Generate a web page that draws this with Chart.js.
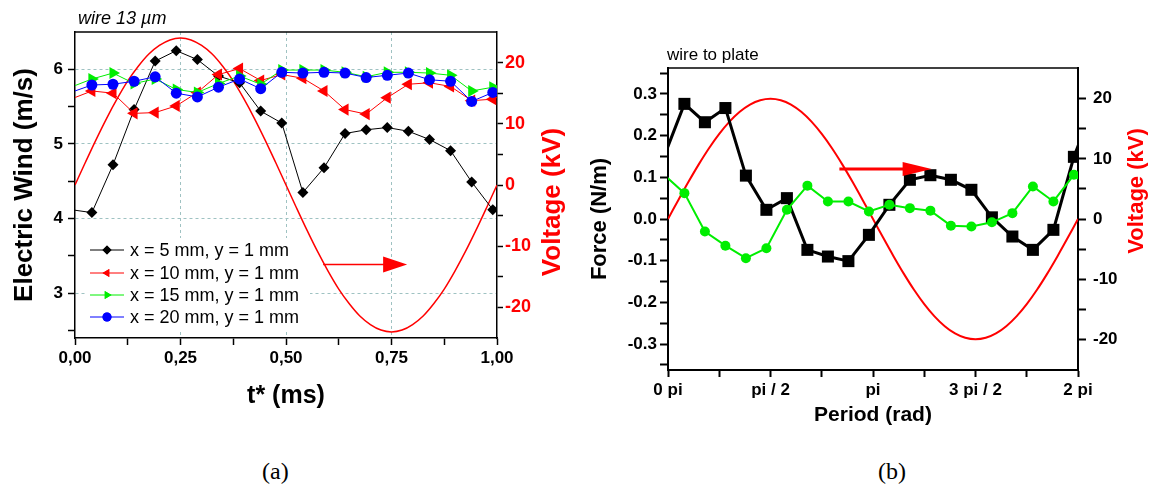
<!DOCTYPE html>
<html>
<head>
<meta charset="utf-8">
<script src="https://cdn.jsdelivr.net/npm/chart.js@4.4.0/dist/chart.umd.min.js"></script>
<style>
  body { margin: 0; background: #fff; width: 1149px; height: 484px; position: relative; overflow: hidden; }
  canvas { position: absolute; top: 0; }
  #chartA { left: 0; }
  #chartB { left: 575px; }
  .panel { position: absolute; top: 458px; line-height: 24px; font: 24px "Liberation Serif", "Times New Roman", serif; color: #000; }
</style>
</head>
<body>
<canvas id="chartA" width="575" height="440"></canvas>
<canvas id="chartB" width="574" height="440"></canvas>
<div class="panel" style="left:262px">(a)</div>
<div class="panel" style="left:878px">(b)</div>
<script>
// ---------- panel (a) : electric wind, wire 13 µm ----------
const tWind = [0.04, 0.09, 0.14, 0.19, 0.24, 0.29, 0.34, 0.39, 0.44, 0.49, 0.54, 0.59, 0.64, 0.69, 0.74, 0.79, 0.84, 0.89, 0.94, 0.99];
const wind5  = [4.08, 4.72, 5.46, 6.11, 6.25, 6.13, 5.91, 5.82, 5.44, 5.28, 4.35, 4.68, 5.14, 5.19, 5.22, 5.17, 5.06, 4.91, 4.49, 4.12];
const wind10 = [5.71, 5.68, 5.41, 5.42, 5.51, 5.69, 5.93, 6.01, 5.85, 5.93, 5.88, 5.71, 5.46, 5.40, 5.62, 5.80, 5.82, 5.77, 5.58, 5.60];
const wind15 = [5.87, 5.95, 5.81, 5.87, 5.73, 5.69, 5.81, 5.91, 5.80, 5.99, 5.99, 5.99, 5.96, 5.90, 5.96, 5.96, 5.95, 5.92, 5.71, 5.76];
const wind20 = [5.79, 5.80, 5.84, 5.90, 5.68, 5.63, 5.76, 5.87, 5.74, 5.96, 5.95, 5.96, 5.95, 5.89, 5.92, 5.95, 5.86, 5.84, 5.57, 5.69];

const tVoltA = [0, 0.025, 0.05, 0.075, 0.1, 0.125, 0.15, 0.175, 0.2, 0.225, 0.25, 0.275, 0.3, 0.325, 0.35, 0.375, 0.4, 0.425, 0.45, 0.475, 0.5,
                0.525, 0.55, 0.575, 0.6, 0.625, 0.65, 0.675, 0.7, 0.725, 0.75, 0.775, 0.8, 0.825, 0.85, 0.875, 0.9, 0.925, 0.95, 0.975, 1];
const voltA = [0, 3.75, 7.42, 10.9, 14.1, 17.0, 19.4, 21.4, 22.8, 23.7, 24.0, 23.7, 22.8, 21.4, 19.4, 17.0, 14.1, 10.9, 7.42, 3.75, 0,
               -3.75, -7.42, -10.9, -14.1, -17.0, -19.4, -21.4, -22.8, -23.7, -24.0, -23.7, -22.8, -21.4, -19.4, -17.0, -14.1, -10.9, -7.42, -3.75, 0];

const tTicksA = [0, 0.125, 0.25, 0.375, 0.5, 0.625, 0.75, 0.875, 1];
const tMajorA = [0, 0.25, 0.5, 0.75, 1];
const tLabelsA = ['0,00', '0,25', '0,50', '0,75', '1,00'];
const tGridA = [0.25, 0.5, 0.75];
const windTicks = [2.5, 3, 3.5, 4, 4.5, 5, 5.5, 6];
const windMajor = [3, 4, 5, 6];
const windLabels = ['3', '4', '5', '6'];
const voltTicks = [-20, -15, -10, -5, 0, 5, 10, 15, 20];
const voltMajor = [-20, -10, 0, 10, 20];
const voltLabels = ['-20', '-10', '0', '10', '20'];

const legendA = ['x = 5 mm, y = 1 mm', 'x = 10 mm, y = 1 mm', 'x = 15 mm, y = 1 mm', 'x = 20 mm, y = 1 mm'];

// ---------- panel (b) : force, wire to plate ----------
const phase = [0.08, 0.18, 0.28, 0.38, 0.48, 0.58, 0.68, 0.78, 0.88, 0.98, 1.08, 1.18, 1.28, 1.38, 1.48, 1.58, 1.68, 1.78, 1.88, 1.98];
const forceBlack = [0.276, 0.232, 0.266, 0.104, 0.022, 0.050, -0.074, -0.090, -0.101, -0.038, 0.034, 0.094, 0.105, 0.094, 0.070, 0.004, -0.042, -0.074, -0.026, 0.149];
const forceGreen = [0.062, -0.030, -0.064, -0.094, -0.070, 0.022, 0.080, 0.042, 0.042, 0.018, 0.034, 0.026, 0.020, -0.016, -0.018, -0.008, 0.014, 0.078, 0.042, 0.106];

const phaseVolt = [0, 0.05, 0.1, 0.15, 0.2, 0.25, 0.3, 0.35, 0.4, 0.45, 0.5, 0.55, 0.6, 0.65, 0.7, 0.75, 0.8, 0.85, 0.9, 0.95, 1,
                   1.05, 1.1, 1.15, 1.2, 1.25, 1.3, 1.35, 1.4, 1.45, 1.5, 1.55, 1.6, 1.65, 1.7, 1.75, 1.8, 1.85, 1.9, 1.95, 2];
const voltB = [0, 3.13, 6.18, 9.08, 11.76, 14.14, 16.18, 17.82, 19.02, 19.75, 20, 19.75, 19.02, 17.82, 16.18, 14.14, 11.76, 9.08, 6.18, 3.13, 0,
               -3.13, -6.18, -9.08, -11.76, -14.14, -16.18, -17.82, -19.02, -19.75, -20, -19.75, -19.02, -17.82, -16.18, -14.14, -11.76, -9.08, -6.18, -3.13, 0];

const phaseTicks = [0, 0.25, 0.5, 0.75, 1, 1.25, 1.5, 1.75, 2];
const phaseMajor = [0, 0.5, 1, 1.5, 2];
const phaseLabels = ['0 pi', 'pi / 2', 'pi', '3 pi / 2', '2 pi'];
const forceTicks = [-0.35, -0.3, -0.25, -0.2, -0.15, -0.1, -0.05, 0, 0.05, 0.1, 0.15, 0.2, 0.25, 0.3, 0.35];
const forceMajor = [-0.3, -0.2, -0.1, 0, 0.1, 0.2, 0.3];
const forceLabels = ['-0.3', '-0.2', '-0.1', '0.0', '0.1', '0.2', '0.3'];

const FONT = '"Liberation Sans", Arial, sans-serif';
const GRID = '#9fc2c2';

function labelFor(v, major, labels) {
  const i = major.indexOf(v);
  return i >= 0 ? labels[i] : '';
}
function setTicks(list) {
  return s => { s.ticks = list.map(value => ({ value })); };
}
// repeat last/first sample one period away so the line runs to the frame edges
function periodic(xs, ys, period) {
  const n = xs.length;
  return [{ x: xs[n - 1] - period, y: ys[n - 1] }]
    .concat(xs.map((x, i) => ({ x, y: ys[i] })))
    .concat([{ x: xs[0] + period, y: ys[0] }]);
}
function radii(n, r) {
  return [0].concat(new Array(n).fill(r), [0]);
}
function curve(xs, ys) {
  return xs.map((x, i) => ({ x, y: ys[i] }));
}

function arrow(ctx, x1, x2, y, lw, headLen, headHalf) {
  ctx.save();
  ctx.strokeStyle = '#ff0000';
  ctx.fillStyle = '#ff0000';
  ctx.lineWidth = lw;
  ctx.beginPath();
  ctx.moveTo(x1, y);
  ctx.lineTo(x2 - headLen + 1, y);
  ctx.stroke();
  ctx.beginPath();
  ctx.moveTo(x2, y);
  ctx.lineTo(x2 - headLen, y - headHalf);
  ctx.lineTo(x2 - headLen, y + headHalf);
  ctx.closePath();
  ctx.fill();
  ctx.restore();
}

function rotatedTitle(ctx, text, x, y, size, color) {
  ctx.save();
  ctx.translate(x, y);
  ctx.rotate(-Math.PI / 2);
  ctx.font = 'bold ' + size + 'px ' + FONT;
  ctx.fillStyle = color;
  ctx.textAlign = 'center';
  ctx.textBaseline = 'middle';
  ctx.fillText(text, 0, 0);
  ctx.restore();
}

const windStyles = [
  { data: wind5,  color: '#000000', style: 'rectRot',  rot: 0,   r: 5.5 },
  { data: wind10, color: '#ff0000', style: 'triangle', rot: -90, r: 7 },
  { data: wind15, color: '#00ee00', style: 'triangle', rot: 90,  r: 7 },
  { data: wind20, color: '#0000ff', style: 'circle',   rot: 0,   r: 5.5 }
];

const decoA = {
  id: 'decoA',
  beforeDatasetsDraw(chart) {
    const ctx = chart.ctx;
    // legend box (white, hides the grid)
    ctx.save();
    ctx.fillStyle = '#fff';
    ctx.fillRect(85, 238, 225, 92);
    const rows = [250, 273, 295, 317];
    windStyles.forEach((s, i) => {
      const y = rows[i];
      ctx.strokeStyle = s.color;
      ctx.lineWidth = 1;
      ctx.beginPath();
      ctx.moveTo(90, y);
      ctx.lineTo(124, y);
      ctx.stroke();
      ctx.fillStyle = s.color;
      Chart.helpers.drawPoint(ctx, { pointStyle: s.style, rotation: s.rot, radius: 4.5, borderWidth: 0 }, 107, y);
      ctx.fill();
      ctx.fillStyle = '#000';
      ctx.font = '18px ' + FONT;
      ctx.textAlign = 'left';
      ctx.textBaseline = 'middle';
      ctx.fillText(legendA[i], 130, y + 1);
    });
    ctx.restore();
  },
  afterDatasetsDraw(chart) {
    const { ctx, chartArea: a, scales } = chart;
    // frame top
    ctx.save();
    ctx.strokeStyle = '#000';
    ctx.lineWidth = 1.5;
    ctx.beginPath();
    ctx.moveTo(a.left, a.top);
    ctx.lineTo(a.right, a.top);
    ctx.stroke();
    ctx.restore();
    const y = scales.yV.getPixelForValue(-13);
    arrow(ctx, scales.x.getPixelForValue(0.588), scales.x.getPixelForValue(0.787), y, 1.5, 24, 8);
  },
  afterDraw(chart) {
    const ctx = chart.ctx;
    ctx.save();
    ctx.font = 'italic 18px ' + FONT;
    ctx.fillStyle = '#000';
    ctx.textBaseline = 'middle';
    ctx.fillText('wire 13 \u00b5m', 78, 19);
    ctx.restore();
    rotatedTitle(ctx, 'Voltage (kV)', 553, 202, 26, '#ff0000');
  }
};

const tickFont = { family: FONT, size: 17, weight: 'bold' };

new Chart(document.getElementById('chartA'), {
  type: 'line',
  data: {
    datasets: windStyles.map((s, i) => ({
      data: periodic(tWind, s.data, 1),
      yAxisID: 'y',
      borderColor: s.color,
      backgroundColor: s.color,
      borderWidth: 1,
      pointStyle: s.style,
      pointRotation: s.rot,
      pointRadius: radii(tWind.length, s.r),
      pointBorderWidth: 0,
      clip: 0,
      order: 4 - i
    })).concat([{
      data: curve(tVoltA, voltA),
      yAxisID: 'yV',
      borderColor: '#ff0000',
      borderWidth: 1.5,
      pointRadius: 0,
      tension: 0.3,
      clip: 0,
      order: 5
    }])
  },
  options: {
    responsive: false,
    animation: false,
    layout: { padding: { top: 32, left: 0, right: 0, bottom: 0 } },
    plugins: { legend: { display: false }, tooltip: { enabled: false } },
    scales: {
      x: {
        type: 'linear', position: 'bottom', min: 0, max: 1,
        afterBuildTicks: setTicks(tTicksA),
        afterFit: s => { s.height = 102; },
        ticks: { callback: v => labelFor(v, tMajorA, tLabelsA), color: '#000', font: tickFont, padding: 3, maxRotation: 0, autoSkip: false },
        grid: { color: c => (c.tick && tGridA.includes(c.tick.value)) ? GRID : 'rgba(0,0,0,0)', tickColor: '#000', tickLength: 7, tickWidth: 1.5, lineWidth: 1 },
        border: { color: '#000', width: 1.5, dash: [3, 3] },
        title: { display: true, text: 't* (ms)', color: '#000', font: { family: FONT, size: 25, weight: 'bold' }, padding: { top: 0, bottom: 29 } }
      },
      y: {
        type: 'linear', position: 'left', min: 2.4, max: 6.5,
        afterBuildTicks: setTicks(windTicks),
        afterFit: s => { s.width = 75; },
        ticks: { callback: v => labelFor(v, windMajor, windLabels), color: '#000', font: tickFont, padding: 5, autoSkip: false },
        grid: { color: c => (c.tick && windMajor.includes(c.tick.value)) ? GRID : 'rgba(0,0,0,0)', tickColor: '#000', tickLength: 7, tickWidth: 1.5, lineWidth: 1 },
        border: { color: '#000', width: 1.5, dash: [3, 3] },
        title: { display: true, text: 'Electric Wind (m/s)', color: '#000', font: { family: FONT, size: 26, weight: 'bold' }, padding: { top: 9, bottom: 0 } }
      },
      yV: {
        type: 'linear', position: 'right', min: -25, max: 25,
        afterBuildTicks: setTicks(voltTicks),
        afterFit: s => { s.width = 78; },
        ticks: { callback: v => labelFor(v, voltMajor, voltLabels), color: '#ff0000', font: { family: FONT, size: 18, weight: 'bold' }, padding: 2, autoSkip: false },
        grid: { drawOnChartArea: false, color: '#000', tickLength: 6, tickWidth: 1.5 },
        border: { color: '#000', width: 1.5 }
      }
    }
  },
  plugins: [decoA]
});

const decoB = {
  id: 'decoB',
  afterDatasetsDraw(chart) {
    const { ctx, chartArea: a, scales } = chart;
    ctx.save();
    ctx.strokeStyle = '#000';
    ctx.lineWidth = 1.5;
    ctx.beginPath();
    ctx.moveTo(a.left, a.top);
    ctx.lineTo(a.right, a.top);
    ctx.stroke();
    ctx.restore();
    const y = scales.y.getPixelForValue(0.12);
    arrow(ctx, scales.x.getPixelForValue(0.836), scales.x.getPixelForValue(1.286), y, 3, 29, 7);
  },
  afterDraw(chart) {
    const ctx = chart.ctx;
    ctx.save();
    ctx.font = '17px ' + FONT;
    ctx.fillStyle = '#000';
    ctx.textBaseline = 'middle';
    ctx.fillText('wire to plate', 92, 55);
    ctx.restore();
    rotatedTitle(ctx, 'Voltage (kV)', 562, 191, 22, '#ff0000');
  }
};

new Chart(document.getElementById('chartB'), {
  type: 'line',
  data: {
    datasets: [{
      data: periodic(phase, forceGreen, 2),
      yAxisID: 'y',
      borderColor: '#00ee00',
      backgroundColor: '#00ee00',
      borderWidth: 2,
      pointStyle: 'circle',
      pointRadius: radii(phase.length, 5),
      pointBorderWidth: 0,
      clip: 0,
      order: 1
    }, {
      data: periodic(phase, forceBlack, 2),
      yAxisID: 'y',
      borderColor: '#000000',
      backgroundColor: '#000000',
      borderWidth: 3,
      pointStyle: 'rect',
      pointRadius: radii(phase.length, 8.5),
      pointBorderWidth: 0,
      clip: 0,
      order: 2
    }, {
      data: curve(phaseVolt, voltB),
      yAxisID: 'yV',
      borderColor: '#ff0000',
      borderWidth: 2,
      pointRadius: 0,
      tension: 0.3,
      clip: 0,
      order: 3
    }]
  },
  options: {
    responsive: false,
    animation: false,
    layout: { padding: { top: 68, left: 0, right: 0, bottom: 0 } },
    plugins: { legend: { display: false }, tooltip: { enabled: false } },
    scales: {
      x: {
        type: 'linear', position: 'bottom', min: 0, max: 2,
        afterBuildTicks: setTicks(phaseTicks),
        afterFit: s => { s.height = 70; },
        ticks: { callback: v => labelFor(v, phaseMajor, phaseLabels), color: '#000', font: tickFont, padding: 3, maxRotation: 0, autoSkip: false },
        grid: { drawOnChartArea: false, color: '#000', tickLength: 7, tickWidth: 2 },
        border: { color: '#000', width: 2 },
        title: { display: true, text: 'Period (rad)', color: '#000', font: { family: FONT, size: 21, weight: 'bold' }, padding: { top: 0, bottom: 12 } }
      },
      y: {
        type: 'linear', position: 'left', min: -0.362, max: 0.362,
        afterBuildTicks: setTicks(forceTicks),
        afterFit: s => { s.width = 93; },
        ticks: { callback: v => labelFor(v, forceMajor, forceLabels), color: '#000', font: tickFont, padding: 3, autoSkip: false },
        grid: { drawOnChartArea: false, color: '#000', tickLength: 8, tickWidth: 2 },
        border: { color: '#000', width: 2 },
        title: { display: true, text: 'Force (N/m)', color: '#000', font: { family: FONT, size: 22, weight: 'bold' }, padding: { top: 12, bottom: 0 } }
      },
      yV: {
        type: 'linear', position: 'right', min: -25.1, max: 25.1,
        afterBuildTicks: setTicks(voltTicks),
        afterFit: s => { s.width = 71; },
        ticks: { callback: v => labelFor(v, voltMajor, voltLabels), color: '#000', font: tickFont, padding: 7, autoSkip: false },
        grid: { drawOnChartArea: false, color: '#000', tickLength: 8, tickWidth: 2 },
        border: { color: '#000', width: 2 }
      }
    }
  },
  plugins: [decoB]
});
</script>
</body>
</html>
